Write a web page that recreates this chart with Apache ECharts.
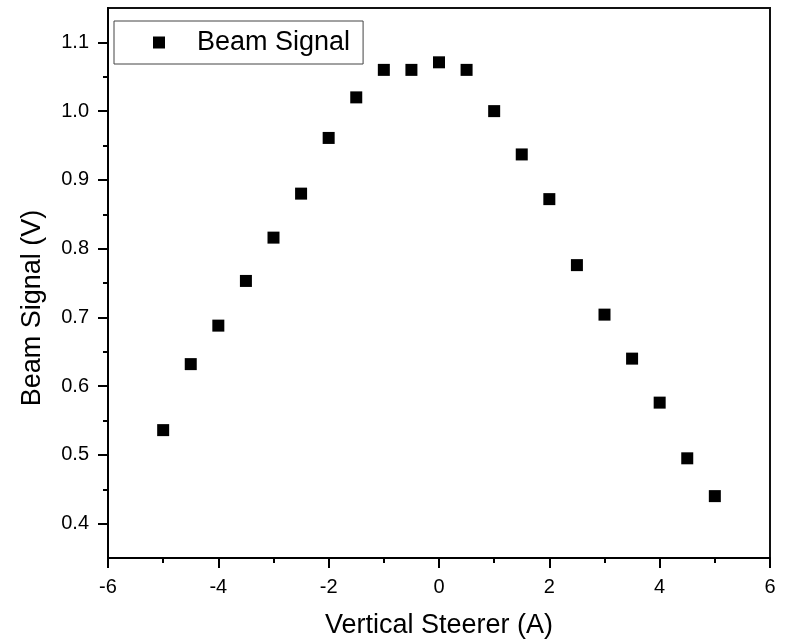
<!DOCTYPE html>
<html>
<head>
<meta charset="utf-8">
<script src="https://cdn.jsdelivr.net/npm/echarts@6/dist/echarts.min.js"></script>
<style>html,body{margin:0;padding:0;background:#fff}#c{width:788px;height:644px}</style>
</head>
<body>
<div id="c"></div>
<script>
const seriesName = 'Beam Signal';
const xTitle = 'Vertical Steerer (A)';
const yTitle = 'Beam Signal (V)';
const steererA = [-5, -4.5, -4, -3.5, -3, -2.5, -2, -1.5, -1, -0.5, 0, 0.5, 1, 1.5, 2, 2.5, 3, 3.5, 4, 4.5, 5];
const beamV = [0.536, 0.632, 0.688, 0.753, 0.816, 0.880, 0.961, 1.020, 1.060, 1.060, 1.071, 1.060, 1.000, 0.937, 0.872, 0.776, 0.704, 0.640, 0.576, 0.495, 0.440];
const yMajorTicks = [0.4, 0.5, 0.6, 0.7, 0.8, 0.9, 1.0, 1.1];
const yMinorTicks = [0.45, 0.55, 0.65, 0.75, 0.85, 0.95, 1.05];

const font = 'Liberation Sans, Arial, sans-serif';
const gridLeft = 108, gridRight = 18, chartW = 788;
const chart = echarts.init(document.getElementById('c'), null, {renderer: 'canvas'});
chart.setOption({
  animation: false,
  backgroundColor: '#fff',
  grid: {left: gridLeft, right: gridRight, top: 8, bottom: 84, show: true, borderColor: '#111', borderWidth: 2, backgroundColor: 'transparent'},
  legend: {
    left: 114, top: 21,
    padding: [8, 13, 8, 39],
    borderColor: '#444', borderWidth: 1,
    itemWidth: 12, itemHeight: 12,
    icon: 'rect',
    itemStyle: {opacity: 1},
    textStyle: {fontFamily: font, fontSize: 27, color: '#000', padding: [0, 0, 0, 27]},
    data: [seriesName]
  },
  xAxis: {
    type: 'value', min: -6, max: 6, interval: 2,
    name: xTitle, nameLocation: 'middle', nameGap: 54,
    nameTextStyle: {fontFamily: font, fontSize: 27, color: '#000'},
    axisLine: {show: true, onZero: false, lineStyle: {color: '#000', width: 2}},
    axisTick: {show: true, inside: false, length: 10, lineStyle: {color: '#000', width: 2}},
    minorTick: {show: true, splitNumber: 2, length: 5, lineStyle: {color: '#000', width: 2}},
    axisLabel: {fontFamily: font, fontSize: 20, color: '#000', margin: 19},
    splitLine: {show: false}
  },
  yAxis: [{
    type: 'value', min: 0.35, max: 1.15, position: 'left',
    name: yTitle, nameLocation: 'middle', nameGap: 62,
    nameTextStyle: {fontFamily: font, fontSize: 27, color: '#000', padding: [0, 50, 0, 0]},
    axisLine: {show: true, onZero: false, lineStyle: {color: '#000', width: 2}},
    axisTick: {show: true, inside: false, length: 5, customValues: yMinorTicks, lineStyle: {color: '#000', width: 2}},
    axisLabel: {fontFamily: font, fontSize: 20, color: '#000', margin: 19, customValues: yMajorTicks,
      formatter: v => v.toFixed(1)},
    splitLine: {show: false}
  }, {
    type: 'value', min: 0.35, max: 1.15, position: 'right',
    offset: -(chartW - gridLeft - gridRight),
    axisLine: {show: false, onZero: false},
    axisTick: {show: true, inside: true, length: 10, customValues: yMajorTicks, lineStyle: {color: '#000', width: 2}},
    axisLabel: {show: false},
    splitLine: {show: false}
  }],
  series: [{
    name: seriesName,
    type: 'scatter',
    yAxisIndex: 0,
    symbol: 'rect',
    symbolSize: 12,
    itemStyle: {color: '#000', opacity: 1},
    data: steererA.map((x, i) => [x, beamV[i]])
  }]
});
</script>
</body>
</html>
